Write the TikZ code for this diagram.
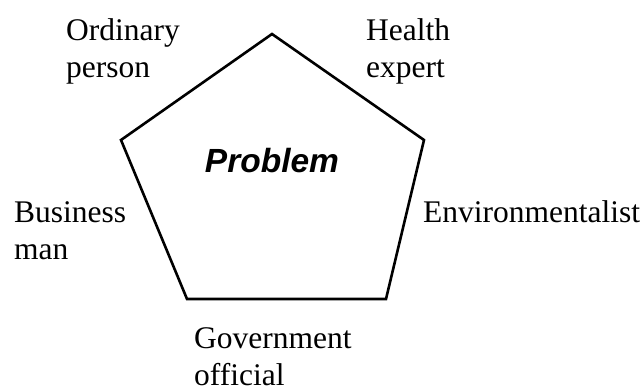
\documentclass[tikz,border=0pt]{standalone}
\usepackage{fontspec}
\setmainfont{Liberation Serif}
\newfontfamily\headfont{Liberation Sans}
\usetikzlibrary{positioning}

\tikzset{
	role/.style={anchor=base west,align=left,inner sep=0pt,
		font=\fontsize{31.5}{37}\selectfont},
	side/.style={line width=2.6pt,line join=miter},
}

\begin{document}
\begin{tikzpicture}[x=1pt,y=-1pt]
	\useasboundingbox (0,0) rectangle (643,389);
	% corners of the pentagon
	\coordinate (top) at (272,34);
	\coordinate (upright) at (424,140);
	\coordinate (lowright) at (386,299);
	\coordinate (lowleft) at (187,299);
	\coordinate (upleft) at (121,140);
	\draw[side] (top) -- (upright) -- (lowright) -- (lowleft) -- (upleft) -- cycle;
	
	\node (problem) at (272,172) [anchor=base,inner sep=0pt,
		font=\headfont\bfseries\itshape\fontsize{33.5}{38}\selectfont] {Problem};
	
	% the five points of view (base = last line)
	\node[role] (ordinary) at (66,77) {Ordinary\\person};
	\node[role] (health) at (366,77) {Health\\expert};
	\node[role] (business) at (14,259) {Business\\man};
	\node[role] (environ) at (423,222) {Environmentalist};
	\node[role] (government) at (194,385) {Government\\official};
\end{tikzpicture}
\end{document}
